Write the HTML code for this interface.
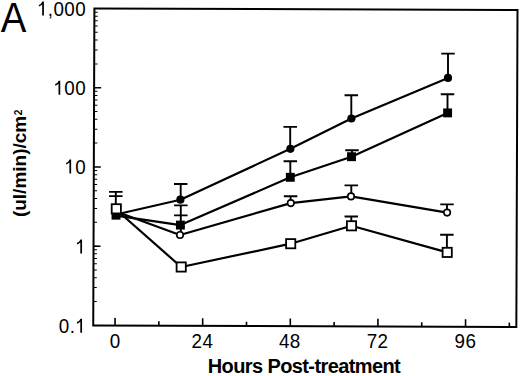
<!DOCTYPE html>
<html><head><meta charset="utf-8"><style>
html,body{margin:0;padding:0;background:#fff;width:520px;height:376px;overflow:hidden}
svg{display:block;font-family:"Liberation Sans",sans-serif}
</style></head><body>
<svg width="520" height="376" viewBox="0 0 520 376">
<g transform="translate(94.4,8.5) rotate(0.21)"><rect x="0" y="0" width="423.1" height="316.9" fill="none" stroke="#000" stroke-width="2"/><path d="M0 79.22H7 M0 158.45H7 M0 237.67H7 M21.80 316.9V309.30 M65.61 316.9V312.60 M109.42 316.9V309.30 M153.24 316.9V312.60 M197.05 316.9V309.30 M240.86 316.9V312.60 M284.67 316.9V309.30 M328.48 316.9V312.60 M372.30 316.9V309.30 M416.11 316.9V312.60" stroke="#000" stroke-width="1.6" fill="none"/><path d="M0 55.38H3.4 M0 41.43H3.4 M0 31.53H3.4 M0 23.85H3.4 M0 17.58H3.4 M0 12.27H3.4 M0 7.68H3.4 M0 3.63H3.4 M0 134.60H3.4 M0 120.65H3.4 M0 110.75H3.4 M0 103.07H3.4 M0 96.80H3.4 M0 91.50H3.4 M0 86.90H3.4 M0 82.85H3.4 M0 213.83H3.4 M0 199.88H3.4 M0 189.98H3.4 M0 182.30H3.4 M0 176.03H3.4 M0 170.72H3.4 M0 166.13H3.4 M0 162.08H3.4 M0 293.05H3.4 M0 279.10H3.4 M0 269.20H3.4 M0 261.52H3.4 M0 255.25H3.4 M0 249.95H3.4 M0 245.35H3.4 M0 241.30H3.4" stroke="#000" stroke-width="1.0" fill="none"/></g>
<path d="M116 214.5 L180.4 199.7 L290.4 148.8 L351.4 118.5 L448 77.9" fill="none" stroke="#000" stroke-width="2.2" stroke-linejoin="round"/><path d="M116 215.6 L180.4 225.1 L290.3 177.3 L351.5 156.7 L447.6 112.9" fill="none" stroke="#000" stroke-width="2.2" stroke-linejoin="round"/><path d="M116 211.5 L180 235 L290.8 203.1 L351 196.4 L447.1 212.6" fill="none" stroke="#000" stroke-width="2.2" stroke-linejoin="round"/><path d="M116.3 209.7 L181.2 267 L290.7 243.7 L351.5 225.8 L447.2 252.4" fill="none" stroke="#000" stroke-width="2.2" stroke-linejoin="round"/>
<path d="M180.7 199.7V184M173.95 184h13.5M290.2 148.8V126.9M283.45 126.9h13.5M351.3 118V95.2M344.55 95.2h13.5M448 77.9V53.6M441.25 53.6h13.5M180.8 225V205.4M174.05 205.4h13.5M290.3 177V161.2M283.55 161.2h13.5M352 156.7V150.2M345.25 150.2h13.5M447.5 112.9V94.3M440.75 94.3h13.5M180.8 235V215.4M174.05 215.4h13.5M290.6 203V196.3M283.85 196.3h13.5M351.3 196.4V185.4M344.55 185.4h13.5M447 212.6V204.4M440.25 204.4h13.5M115.8 208.8V191.9M109.05 191.9h13.5M115.8 208.8V196.1M109.05 196.1h13.5M351.3 225.8V216.5M344.55 216.5h13.5M446.9 252.4V234.8M440.15 234.8h13.5" stroke="#000" stroke-width="1.9" fill="none"/>
<circle cx="116" cy="211.5" r="3.25" fill="#fff" stroke="#000" stroke-width="1.6"/><circle cx="180" cy="235" r="3.25" fill="#fff" stroke="#000" stroke-width="1.6"/><circle cx="290.8" cy="203.1" r="3.25" fill="#fff" stroke="#000" stroke-width="1.6"/><circle cx="351" cy="196.4" r="3.25" fill="#fff" stroke="#000" stroke-width="1.6"/><circle cx="447.1" cy="212.6" r="3.25" fill="#fff" stroke="#000" stroke-width="1.6"/><circle cx="116" cy="214.5" r="4.1" fill="#000"/><circle cx="180.4" cy="199.7" r="4.1" fill="#000"/><circle cx="290.4" cy="148.8" r="4.1" fill="#000"/><circle cx="351.4" cy="118.5" r="4.1" fill="#000"/><circle cx="448" cy="77.9" r="4.1" fill="#000"/><rect x="111.55" y="210.75" width="8.9" height="8.9" fill="#000"/><rect x="175.95" y="220.65" width="8.9" height="8.9" fill="#000"/><rect x="285.85" y="172.85" width="8.9" height="8.9" fill="#000"/><rect x="347.05" y="152.25" width="8.9" height="8.9" fill="#000"/><rect x="443.15" y="108.45" width="8.9" height="8.9" fill="#000"/><rect x="111.70" y="204.20" width="9.2" height="9.2" fill="#fff" stroke="#000" stroke-width="1.8"/><rect x="176.60" y="262.40" width="9.2" height="9.2" fill="#fff" stroke="#000" stroke-width="1.8"/><rect x="286.10" y="239.10" width="9.2" height="9.2" fill="#fff" stroke="#000" stroke-width="1.8"/><rect x="346.90" y="221.20" width="9.2" height="9.2" fill="#fff" stroke="#000" stroke-width="1.8"/><rect x="442.60" y="247.80" width="9.2" height="9.2" fill="#fff" stroke="#000" stroke-width="1.8"/>
<text transform="translate(0.75,31.7) scale(0.9,1)" font-size="42.6">A</text><path transform="translate(36.86,15.60) scale(19.6,19.992)" d="M0.359 -0.703L0.359 0L0.271 0L0.271 -0.55Q0.19 -0.465 0.101 -0.455L0.101 -0.535Q0.225 -0.565 0.28 -0.703Z"/><text transform="translate(47.87,15.60) scale(0.96,1.02)" font-size="19.6">,</text><text transform="translate(53.43,15.60) scale(0.96,1.02)" font-size="19.6">0</text><text transform="translate(64.32,15.60) scale(0.96,1.02)" font-size="19.6">0</text><text transform="translate(75.22,15.60) scale(0.96,1.02)" font-size="19.6">0</text><path transform="translate(53.21,94.80) scale(19.6,19.992)" d="M0.359 -0.703L0.359 0L0.271 0L0.271 -0.55Q0.19 -0.465 0.101 -0.455L0.101 -0.535Q0.225 -0.565 0.28 -0.703Z"/><text transform="translate(64.32,94.80) scale(0.96,1.02)" font-size="19.6">0</text><text transform="translate(75.22,94.80) scale(0.96,1.02)" font-size="19.6">0</text><path transform="translate(64.10,173.60) scale(19.6,19.992)" d="M0.359 -0.703L0.359 0L0.271 0L0.271 -0.55Q0.19 -0.465 0.101 -0.455L0.101 -0.535Q0.225 -0.565 0.28 -0.703Z"/><text transform="translate(75.22,173.60) scale(0.96,1.02)" font-size="19.6">0</text><path transform="translate(75.00,253.50) scale(19.6,19.992)" d="M0.359 -0.703L0.359 0L0.271 0L0.271 -0.55Q0.19 -0.465 0.101 -0.455L0.101 -0.535Q0.225 -0.565 0.28 -0.703Z"/><text transform="translate(58.87,332.80) scale(0.96,1.02)" font-size="19.6">0</text><text transform="translate(69.66,332.80) scale(0.96,1.02)" font-size="19.6">.</text><path transform="translate(75.00,332.80) scale(19.6,19.992)" d="M0.359 -0.703L0.359 0L0.271 0L0.271 -0.55Q0.19 -0.465 0.101 -0.455L0.101 -0.535Q0.225 -0.565 0.28 -0.703Z"/><text transform="translate(109.77,348.10) scale(0.96,1.02)" font-size="19.6">0</text><text transform="translate(191.52,348.10) scale(0.96,1.02)" font-size="19.6">2</text><text transform="translate(202.42,348.10) scale(0.96,1.02)" font-size="19.6">4</text><text transform="translate(278.92,348.10) scale(0.96,1.02)" font-size="19.6">4</text><text transform="translate(289.82,348.10) scale(0.96,1.02)" font-size="19.6">8</text><text transform="translate(366.72,348.10) scale(0.96,1.02)" font-size="19.6">7</text><text transform="translate(377.62,348.10) scale(0.96,1.02)" font-size="19.6">2</text><text transform="translate(454.52,348.10) scale(0.96,1.02)" font-size="19.6">9</text><text transform="translate(465.42,348.10) scale(0.96,1.02)" font-size="19.6">6</text><text x="207.7" y="373.3" font-size="20" font-weight="bold" letter-spacing="-0.6">Hours Post-treatment</text><text transform="translate(26,217.1) rotate(-90)" font-size="19" font-weight="bold">(ul/min)/cm</text><text transform="translate(22,115.2) rotate(-90) scale(0.92,1)" font-size="11" font-weight="bold">2</text>
</svg>
</body></html>
